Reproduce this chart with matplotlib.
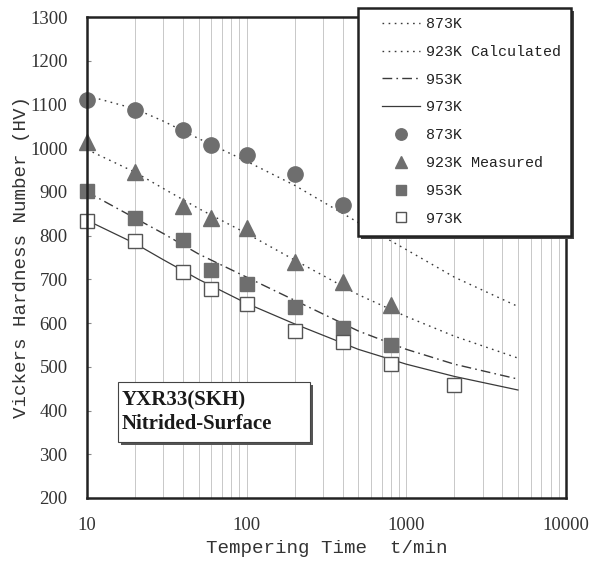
# tempering curves: calculated vs measured hardness of nitrided surface

import matplotlib
matplotlib.use("Agg")
import matplotlib.pyplot as plt
from matplotlib.patches import Rectangle
from matplotlib.ticker import LogLocator, FixedLocator, NullFormatter

# calculated curves
t_calc = [10, 20, 30, 50, 100, 200, 500, 1000, 2000, 5000]
hv_calc_873 = [1120, 1090, 1062, 1022, 970, 915, 830, 768, 705, 638]
hv_calc_923 = [997, 945, 908, 862, 805, 744, 665, 615, 570, 520]
hv_calc_953 = [900, 840, 805, 758, 705, 652, 582, 540, 506, 472]
hv_calc_973 = [835, 782, 745, 700, 645, 598, 540, 506, 478, 447]

# measured points
t_873 = [10, 20, 40, 60, 100, 200, 400]
hv_873 = [1110, 1087, 1041, 1007, 984, 941, 870]
t_923 = [10, 20, 40, 60, 100, 200, 400, 800]
hv_923 = [1014, 945, 868, 840, 817, 740, 694, 641]
t_953 = [10, 20, 40, 60, 100, 200, 400, 800]
hv_953 = [902, 840, 790, 721, 690, 637, 589, 550]
t_973 = [10, 20, 40, 60, 100, 200, 400, 800, 2000]
hv_973 = [833, 788, 717, 678, 644, 582, 557, 506, 458]

y_ticks = list(range(200, 1301, 100))
x_ticks = [10, 100, 1000, 10000]

MONO = "Liberation Mono"
SERIF = "Liberation Serif"
dark = "#3a3a3a"
mk = "#6e6e6e"
W, H = 591, 563

fig = plt.figure(figsize=(W / 100, H / 100), dpi=100)
ax = fig.add_axes([87 / W, 1 - 498 / H, 479 / W, 481 / H])

ax.set_xscale("log")
ax.set_xlim(10, 10000)
ax.set_ylim(200, 1300)

# vertical grid only
ax.xaxis.set_minor_locator(LogLocator(base=10, subs=range(2, 10)))
ax.xaxis.set_minor_formatter(NullFormatter())
ax.grid(True, which="both", axis="x", color="#c8c8c8", lw=0.7)
ax.set_axisbelow(True)

l1, = ax.plot(t_calc, hv_calc_873, color=dark, lw=1.0, dashes=(1.2, 3.2))
l2, = ax.plot(t_calc, hv_calc_923, color=dark, lw=1.0, dashes=(1.2, 3.2))
l3, = ax.plot(t_calc, hv_calc_953, color=dark, lw=1.0, dashes=(7, 3, 1.2, 3))
l4, = ax.plot(t_calc, hv_calc_973, color=dark, lw=0.9, ls="-")

m1, = ax.plot(t_873, hv_873, ls="none", marker="o", ms=11, mfc=mk, mec=mk)
m2, = ax.plot(t_923, hv_923, ls="none", marker="^", ms=12, mfc=mk, mec=mk)
m3, = ax.plot(t_953, hv_953, ls="none", marker="s", ms=10.5, mfc=mk, mec=mk)
m4, = ax.plot(t_973, hv_973, ls="none", marker="s", ms=10.5, mfc="white",
              mec="#555555", mew=1.0)
for m in (m1, m2, m3, m4):
    m.set_clip_on(False)

ax.set_yticks(y_ticks)
ax.xaxis.set_major_locator(FixedLocator(x_ticks))
ax.set_xticklabels([str(v) for v in x_ticks])
ax.tick_params(axis="both", which="both", direction="in", length=3,
               color="#888888", labelsize=13.5, labelcolor="#333333")
ax.tick_params(axis="x", which="both", length=0, pad=14)
ax.tick_params(axis="y", pad=14)
for lab in ax.get_xticklabels() + ax.get_yticklabels():
    lab.set_fontfamily(SERIF)

for s in ax.spines.values():
    s.set_linewidth(1.8)
    s.set_color("#222222")

ax.set_xlabel("Tempering Time  t/min", fontfamily=MONO, fontsize=13.8,
              color="#333333", labelpad=4)
ax.set_ylabel("Vickers Hardness Number (HV)", fontfamily=MONO, fontsize=13.8,
              color="#333333", labelpad=0)

# sample box with shadow
shadow = Rectangle((0.071, 0.110), 0.401, 0.125, transform=ax.transAxes,
                   facecolor="#555555", edgecolor="none", zorder=5)
box = Rectangle((0.065, 0.116), 0.401, 0.125, transform=ax.transAxes,
                facecolor="white", edgecolor="#444444", lw=0.8, zorder=6)
ax.add_patch(shadow)
ax.add_patch(box)
ax.text(0.073, 0.178, "YXR33(SKH)\nNitrided-Surface", transform=ax.transAxes,
        fontfamily=SERIF, fontweight="bold", fontsize=15, color="#1a1a1a",
        va="center", ha="left", linespacing=1.25, zorder=7)

# legend frame drawn by hand (figure pixels), shadow to the lower right
lx0, ly0, lx1, ly1 = 358, 8, 571, 236
fig.add_artist(Rectangle((lx0 / W + 3 / W, 1 - (ly1 + 3) / H),
                         (lx1 - lx0) / W, (ly1 - ly0) / H,
                         transform=fig.transFigure, facecolor="#444444",
                         edgecolor="none", zorder=4))
fig.add_artist(Rectangle((lx0 / W, 1 - ly1 / H), (lx1 - lx0) / W,
                         (ly1 - ly0) / H, transform=fig.transFigure,
                         facecolor="white", edgecolor="#222222", lw=1.8,
                         zorder=5))

handles = [l1, l2, l3, l4, m1, m2, m3, m4]
labels = ["873K", "923K Calculated", "953K", "973K",
          "873K", "923K Measured", "953K", "973K"]
leg = fig.legend(handles, labels, loc="upper left",
                 bbox_to_anchor=(382 / W, 1 - 17 / H),
                 prop={"family": MONO, "size": 10.8},
                 handlelength=2.5, handletextpad=0.45, labelspacing=0.92,
                 borderpad=0, markerscale=0.75, frameon=False,
                 borderaxespad=0)
for txt in leg.get_texts():
    txt.set_color("#222222")
leg.set_zorder(10)

fig.savefig("out.png", dpi=100)
